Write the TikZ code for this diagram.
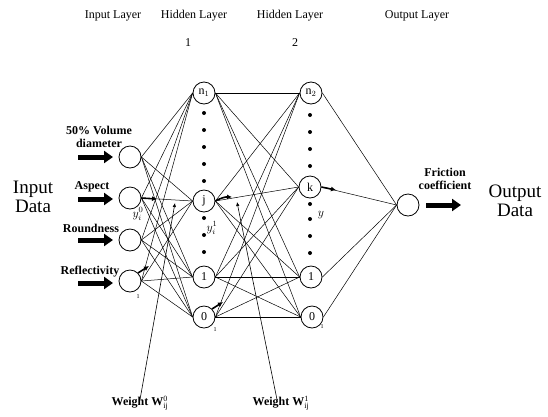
\documentclass[tikz,border=0pt]{standalone}
\usepackage{fontspec}
\setmainfont{Liberation Serif}
\usetikzlibrary{arrows.meta}

\begin{document}
\begin{tikzpicture}[x=1pt,y=-1pt,
  neuron/.style={circle,draw,line width=0.8pt,minimum size=22pt,inner sep=0pt,
                 font=\fontsize{12}{12}\selectfont},
  link/.style={line width=0.5pt},
  feed/.style={line width=5pt,-{Triangle[length=9pt,width=12pt]}},
  signal/.style={line width=1.6pt,-{Latex[length=5pt,width=5pt]}},
  pointer/.style={line width=0.6pt,-{Latex[length=4pt,width=3.5pt]}},
  header/.style={font=\fontsize{12}{14}\selectfont},
  tag/.style={font=\bfseries\fontsize{12}{13}\selectfont,align=center,inner sep=0pt},
  big/.style={font=\fontsize{19}{19}\selectfont,align=center,inner sep=0pt},
  sym/.style={font=\fontsize{12}{12}\selectfont,inner sep=0pt},
  tiny/.style={font=\fontsize{6}{6}\selectfont,inner sep=0pt}
]
\useasboundingbox (0,0) rectangle (548,416);

% layer headers
\node[header] (hdin)  at (113,16) {Input Layer};
\node[header] (hdh1)  at (194,16) {Hidden Layer};
\node[header] (hdh1n) at (188,43) {1};
\node[header] (hdh2)  at (290,16) {Hidden Layer};
\node[header] (hdh2n) at (295,43) {2};
\node[header] (hdout) at (417,16) {Output Layer};

% input layer
\node[neuron] (i1) at (130,157) {};
\node[neuron] (i2) at (130,198) {};
\node[neuron] (i3) at (130,240) {};
\node[neuron] (i4) at (130,281) {};

% hidden layer 1
\node[neuron] (hn) at (204,93)  {n$_1$};
\node[neuron] (hj) at (204,201) {j};
\node[neuron] (h1) at (204,277) {1};
\node[neuron] (h0) at (204,317) {0};

% hidden layer 2
\node[neuron] (kn) at (311,93)  {n$_2$};
\node[neuron] (kk) at (310,187) {k};
\node[neuron] (k1) at (311,277) {1};
\node[neuron] (k0) at (312,317) {0};

% output layer
\node[neuron] (out) at (408,205) {};

% ellipsis dots in the hidden columns
\foreach \y in {113,130,147,164,181} \fill (204,\y) circle (2pt);
\foreach \y in {218,235,252}         \fill (204,\y) circle (2pt);
\foreach \y in {115,132,149,166}     \fill (310,\y) circle (2pt);
\foreach \y in {204,219,236,253}     \fill (310,\y) circle (2pt);

% weighted connections
\foreach \a in {i1,i2,i3,i4}
  \foreach \b in {hn,hj,h1,h0}
    \draw[link] (\a.east) -- (\b.west);
\foreach \a in {hn,hj,h1,h0}
  \foreach \b in {kn,kk,k1,k0}
    \draw[link] (\a.east) -- (\b.west);
\foreach \a in {kn,kk,k1,k0}
  \draw[link] (\a.east) -- (out.west);

% input arrows and their labels
\coordinate (s1) at (78,157);  \coordinate (e1) at (113,157);
\coordinate (s2) at (78,199);  \coordinate (e2) at (113,199);
\coordinate (s3) at (78,240);  \coordinate (e3) at (113,240);
\coordinate (s4) at (78,283);  \coordinate (e4) at (113,283);
\draw[feed] (s1) -- (e1);
\draw[feed] (s2) -- (e2);
\draw[feed] (s3) -- (e3);
\draw[feed] (s4) -- (e4);
\node[tag] (lvol) at (99,137) {50\% Volume\\diameter};
\node[tag] (lasp) at (92,187) {Aspect};
\node[tag] (lrnd) at (91,228) {Roundness};
\node[tag] (lref) at (90,272) {Reflectivity};
\node[big] (indata) at (33,197) {Input\\Data};

% output arrow and labels
\coordinate (so) at (426,205); \coordinate (eo) at (461,205);
\draw[feed] (so) -- (eo);
\node[tag] (fric) at (445,179) {Friction\\coefficient};
\node[big] (outdata) at (515,201) {Output\\Data};

% neuron output signals
\coordinate (t2) at (157,199);
\coordinate (t4) at (149,266);
\coordinate (tj) at (232,197);
\coordinate (t0) at (223,302);
\coordinate (tk) at (336,190);
\draw[signal] (i2.east) -- (t2);
\draw[signal] (i4.north east) -- (t4);
\draw[signal] (hj.east) to[bend left=15] (tj);
\draw[signal] (h0.north east) -- (t0);
\draw[signal] (kk.east) -- (tk);

% signal symbols
\node[sym] (y0) at (138,214) {$y^{0}_{i}$};
\node[sym] (y1) at (212,228) {$y^{1}_{i}$};
\node[sym] (y2) at (321,215) {$y$};
\node[tiny] (m1) at (138,297) {1};
\node[tiny] (m2) at (215,330) {1};
\node[tiny] (m3) at (322,327) {1};

% weight labels with pointers
\node[tag] (w0) at (140,403) {Weight W$^{\mathrm{0}}_{\mathrm{ij}}$};
\node[tag] (w1) at (281,403) {Weight W$^{\mathrm{1}}_{\mathrm{ij}}$};
\coordinate (w0tip) at (175,203);
\coordinate (w1tip) at (237,202);
\draw[pointer] ([yshift=-4pt]w0.north) -- (w0tip);
\draw[pointer] ([xshift=-4pt,yshift=-4pt]w1.north) -- (w1tip);
\end{tikzpicture}
\end{document}
